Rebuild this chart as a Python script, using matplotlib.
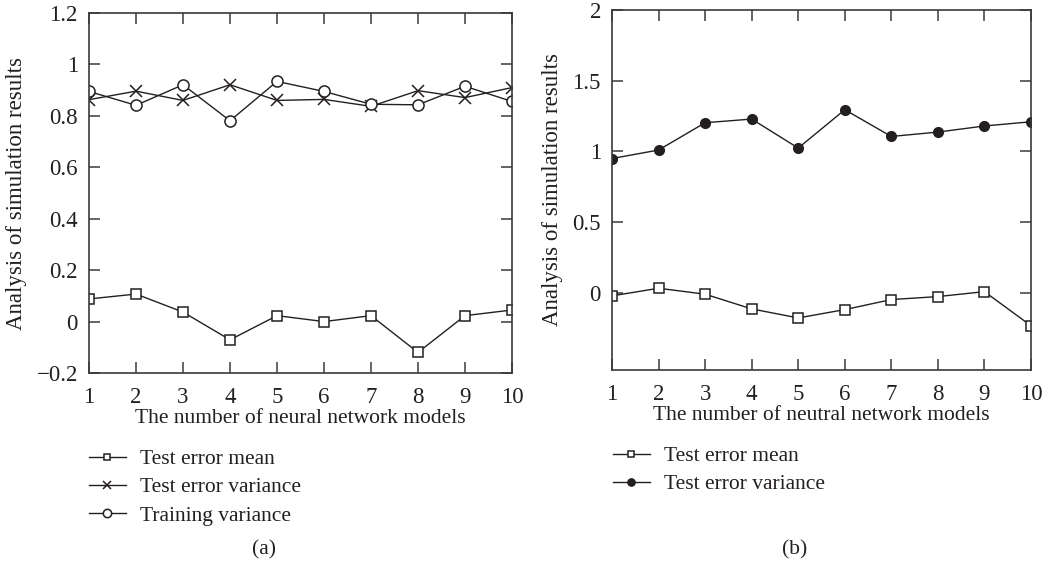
import numpy as np
import matplotlib
matplotlib.use('Agg')
import matplotlib.pyplot as plt

# Общий стиль: шрифт с засечками, тёмно-серые линии
plt.rcParams.update({
    'font.family': ['Liberation Serif', 'DejaVu Serif'],
    'font.size': 15,
    'text.color': '#231f20',
    'axes.edgecolor': '#3a3a3a',
    'axes.labelcolor': '#231f20',
    'xtick.color': '#3a3a3a',
    'ytick.color': '#3a3a3a',
    'xtick.labelcolor': '#231f20',
    'ytick.labelcolor': '#231f20',
})

# ---------------- данные ----------------
models = np.arange(1, 11)

# (a)
a_test_mean = [0.088, 0.107, 0.037, -0.071, 0.023, 0.0, 0.023, -0.120, 0.023, 0.045]
a_test_var = [0.863, 0.896, 0.860, 0.921, 0.860, 0.864, 0.837, 0.898, 0.871, 0.910]
a_train_var = [0.895, 0.841, 0.921, 0.781, 0.934, 0.895, 0.845, 0.843, 0.915, 0.856]

# (b)
b_test_mean = [-0.021, 0.033, -0.009, -0.113, -0.177, -0.118, -0.047, -0.026, 0.009, -0.232]
b_test_var = [0.950, 1.010, 1.203, 1.229, 1.024, 1.295, 1.106, 1.137, 1.180, 1.210]

a_yticks = [-0.2, 0, 0.2, 0.4, 0.6, 0.8, 1, 1.2]
a_ylabels = ['\u22120.2', '0', '0.2', '0.4', '0.6', '0.8', '1', '1.2']
b_yticks = [0, 0.5, 1, 1.5, 2]
b_ylabels = ['0', '0.5', '1', '1.5', '2']

line_col = '#231f20'
W, H = 1045, 565
fig = plt.figure(figsize=(W / 100, H / 100), dpi=100)


def px_axes(x0, y0, x1, y1):
    # координаты в пикселях (от верхнего левого угла)
    return fig.add_axes([x0 / W, 1 - y1 / H, (x1 - x0) / W, (y1 - y0) / H])


def style(ax):
    ax.tick_params(direction='in', length=8, width=1.1, top=True, right=True,
                   labelsize=16.5, pad=8)
    ax.tick_params(axis='x', pad=10)
    for s in ax.spines.values():
        s.set_linewidth(1.2)
    ax.set_xticks(models)
    ax.set_xlim(1, 10)


common = dict(color=line_col, linewidth=1.0)
leg_kw = dict(bbox_transform=fig.transFigure, frameon=False, fontsize=15.5,
              borderpad=0, borderaxespad=0, handlelength=1.7, handletextpad=0.65,
              labelspacing=0.38, markerscale=0.75, loc='upper left')

# ---------------- (a) ----------------
ax1 = px_axes(89, 13, 512, 373)
ax1.plot(models, a_test_mean, marker='s', markersize=6.5, markerfacecolor='white',
         markeredgecolor=line_col, markeredgewidth=1.1, label='Test error mean', **common)
ax1.plot(models, a_test_var, marker='x', markersize=8, markeredgecolor=line_col,
         markeredgewidth=1.1, label='Test error variance', **common)
ax1.plot(models, a_train_var, marker='o', markersize=8, markerfacecolor='white',
         markeredgecolor=line_col, markeredgewidth=1.1, label='Training variance', **common)
style(ax1)
ax1.set_ylim(-0.2, 1.2)
ax1.set_yticks(a_yticks)
ax1.set_yticklabels(a_ylabels)
ax1.set_xlabel('The number of neural network models', fontsize=15.5, labelpad=1)
ax1.set_ylabel('Analysis of simulation results', fontsize=16.5, labelpad=7)
ax1.legend(bbox_to_anchor=(89 / W, 1 - 449 / H), **leg_kw)
fig.text(264 / W, 1 - 550 / H, '(a)', ha='center', va='center', fontsize=15.5)

# ---------------- (b) ----------------
ax2 = px_axes(612, 10, 1031, 370)
ax2.plot(models, b_test_mean, marker='s', markersize=6.5, markerfacecolor='white',
         markeredgecolor=line_col, markeredgewidth=1.1, label='Test error mean', **common)
ax2.plot(models, b_test_var, marker='o', markersize=7, markerfacecolor=line_col,
         markeredgecolor=line_col, label='Test error variance', **common)
style(ax2)
ax2.set_ylim(-0.545, 2)
ax2.set_yticks(b_yticks)
ax2.set_yticklabels(b_ylabels)
ax2.set_xlabel('The number of neutral network models', fontsize=15.5, labelpad=1)
ax2.set_ylabel('Analysis of simulation results', fontsize=16.5, labelpad=7)
ax2.legend(bbox_to_anchor=(613 / W, 1 - 446 / H), **leg_kw)
fig.text(795 / W, 1 - 550 / H, '(b)', ha='center', va='center', fontsize=15.5)

fig.savefig('out.png', dpi=100)
